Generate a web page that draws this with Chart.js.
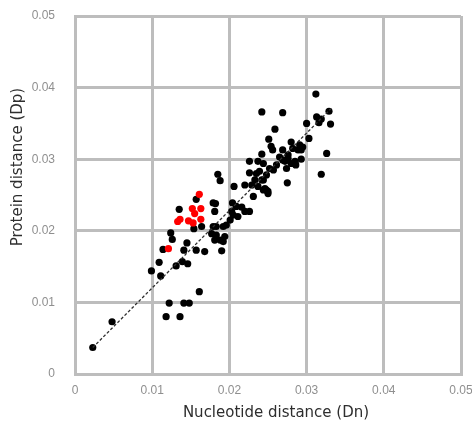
<!DOCTYPE html>
<html>
<head>
<meta charset="utf-8">
<script src="https://cdn.jsdelivr.net/npm/chart.js@4.4.1/dist/chart.umd.min.js"></script>
<style>
html,body{margin:0;padding:0;background:#fff;}
#wrap{width:472px;height:427px;position:relative;}
</style>
</head>
<body>
<div id="wrap"><canvas id="c" width="472" height="427"></canvas></div>
<script>
// ---- data ----
const xTitle = 'Nucleotide distance (Dn)';
const yTitle = 'Protein distance (Dp)';
const xTickLabels = ['0', '0.01', '0.02', '0.03', '0.04', '0.05'];
const yTickLabels = ['0', '0.01', '0.02', '0.03', '0.04', '0.05'];

const blackDn = [0.0023,0.0048,0.0099,0.0109,0.0111,0.0114,0.0122,0.0118,0.0131,0.0139,0.0146,0.0161,0.0141,0.0148,0.0136,
  0.0135,0.0154,0.0164,0.0124,0.0126,0.0145,0.0141,0.0157,0.0168,0.0185,0.0188,0.0157,0.0179,0.0182,0.0181,
  0.0204,0.0220,0.0226,0.0203,0.0205,0.0211,0.0220,0.0226,0.0201,0.0196,0.0192,0.0179,0.0183,0.0177,0.0183,
  0.0181,0.0188,0.0192,0.0194,0.0190,0.0242,0.0269,0.0259,0.0251,0.0254,0.0256,0.0269,0.0280,0.0282,0.0242,
  0.0226,0.0275,0.0206,0.0265,0.0269,0.0276,0.0285,0.0312,0.0329,0.0313,0.0316,0.0319,0.0300,0.0331,0.0303,
  0.0291,0.0295,0.0289,0.0293,0.0326,0.0276,0.0272,0.0280,0.0285,0.0293,0.0274,0.0286,0.0319,0.0231,0.0244,
  0.0248,0.0250,0.0237,0.0244,0.0252,0.0235,0.0233,0.0242,0.0246,0.0250,0.0257,0.0261,0.0239,0.0248,0.0229,
  0.0237,0.0244,0.0209,0.0216];
const blackDp = [0.0037,0.0073,0.0144,0.0156,0.0137,0.0174,0.0099,0.0080,0.0151,0.0157,0.0154,0.0115,0.0099,0.0099,0.0080,
  0.0230,0.0203,0.0206,0.0197,0.0188,0.0183,0.0173,0.0173,0.0171,0.0279,0.0270,0.0244,0.0239,0.0238,0.0227,
  0.0239,0.0264,0.0281,0.0227,0.0222,0.0220,0.0227,0.0227,0.0215,0.0208,0.0206,0.0206,0.0206,0.0196,0.0194,
  0.0187,0.0187,0.0185,0.0192,0.0172,0.0366,0.0365,0.0342,0.0328,0.0318,0.0313,0.0313,0.0324,0.0315,0.0307,
  0.0297,0.0267,0.0262,0.0303,0.0299,0.0306,0.0297,0.0391,0.0367,0.0359,0.0351,0.0356,0.0350,0.0349,0.0329,
  0.0320,0.0317,0.0313,0.0313,0.0308,0.0301,0.0297,0.0294,0.0294,0.0300,0.0287,0.0292,0.0279,0.0248,0.0271,
  0.0257,0.0252,0.0297,0.0294,0.0287,0.0280,0.0271,0.0271,0.0259,0.0255,0.0285,0.0292,0.0283,0.0278,0.0264,
  0.0262,0.0257,0.0234,0.0233];

const redDn = [0.0161,0.0152,0.0163,0.0155,0.0136,0.0133,0.0147,0.0153,0.0163,0.0121];
const redDp = [0.0251,0.0231,0.0231,0.0224,0.0216,0.0213,0.0214,0.0211,0.0216,0.0175];

const trendDn = [0.0023, 0.0332];
const trendDp = [0.0037, 0.0371];

const toPts = (xs, ys) => xs.map((x, i) => ({x: x, y: ys[i]}));

// ---- styling ----
const gridColor = '#bdbdbd';
const tickColor = '#8f8f8f';
const titleColor = '#2e2e2e';

const axisTitles = {
  id: 'axisTitles',
  afterDraw(chart) {
    const ctx = chart.ctx;
    ctx.save();
    ctx.fillStyle = titleColor;
    ctx.font = '15px "DejaVu Sans"';
    ctx.textAlign = 'center';
    ctx.textBaseline = 'middle';
    ctx.fillText(xTitle, 276, 413);
    ctx.translate(18, 167);
    ctx.rotate(-Math.PI / 2);
    ctx.fillText(yTitle, 0, 0);
    ctx.restore();
  }
};

new Chart(document.getElementById('c'), {
  type: 'scatter',
  data: {
    datasets: [
      {
        type: 'line',
        data: toPts(trendDn, trendDp),
        borderColor: '#303030',
        borderWidth: 1.3,
        borderDash: [3, 2],
        pointRadius: 0,
        fill: false
      },
      {
        data: toPts(redDn, redDp),
        backgroundColor: '#ff0000',
        borderColor: '#ff0000',
        pointRadius: 3.6,
        borderWidth: 0
      },
      {
        data: toPts(blackDn, blackDp),
        backgroundColor: '#000000',
        borderColor: '#000000',
        pointRadius: 3.6,
        borderWidth: 0
      }
    ]
  },
  options: {
    responsive: false,
    animation: false,
    devicePixelRatio: 1,
    layout: { padding: { left: 0, top: 16, right: 11, bottom: 0 } },
    plugins: { legend: { display: false }, tooltip: { enabled: false } },
    scales: {
      x: {
        type: 'linear',
        min: 0, max: 0.05,
        afterFit(s) { s.height = 53; s.paddingLeft = 0; s.paddingRight = 0; },
        grid: { color: gridColor, lineWidth: 3, drawTicks: false },
        border: { color: gridColor, width: 3 },
        ticks: {
          stepSize: 0.01,
          padding: 9,
          color: tickColor,
          font: { family: '"Liberation Sans Narrow", "Liberation Sans"', size: 12 },
          callback: (v, i) => xTickLabels[i]
        }
      },
      y: {
        type: 'linear',
        min: 0, max: 0.05,
        afterFit(s) { s.width = 75; s.paddingTop = 0; s.paddingBottom = 0; },
        grid: { color: gridColor, lineWidth: 3, drawTicks: false },
        border: { color: gridColor, width: 3 },
        ticks: {
          stepSize: 0.01,
          padding: 20,
          color: tickColor,
          font: { family: '"Liberation Sans Narrow", "Liberation Sans"', size: 12 },
          callback: (v, i) => yTickLabels[i]
        }
      }
    }
  },
  plugins: [axisTitles]
});
</script>
</body>
</html>
